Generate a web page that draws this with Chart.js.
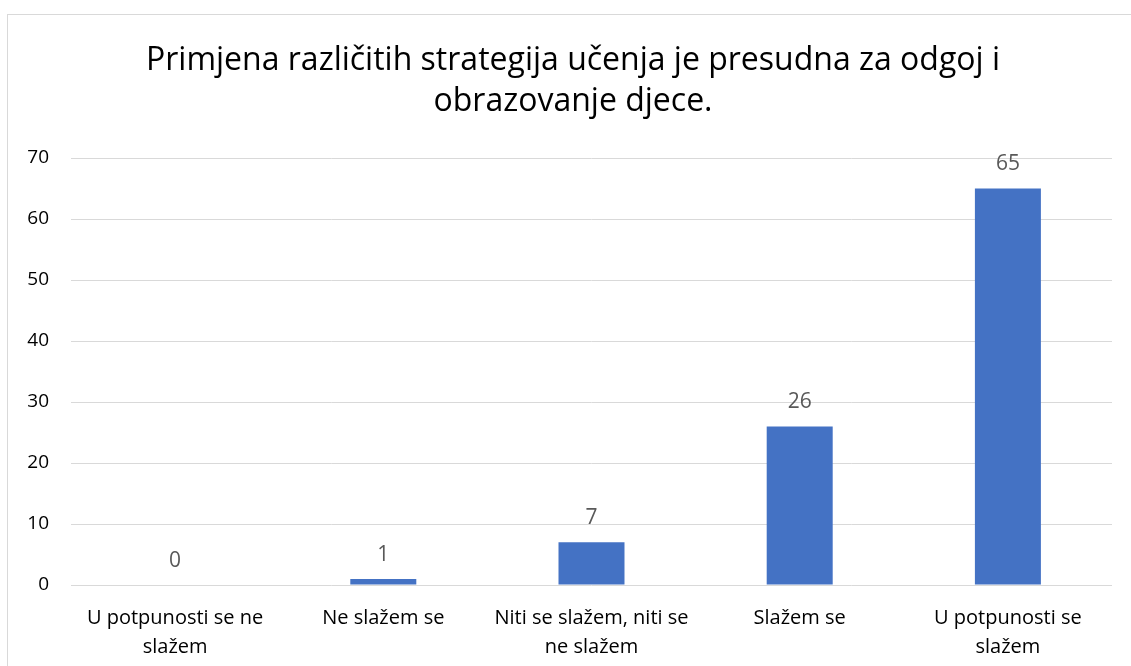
<!DOCTYPE html>
<html>
<head>
<meta charset="utf-8">
<script src="https://cdn.jsdelivr.net/npm/chart.js@4"></script>
<style>
  html, body { margin: 0; padding: 0; background: #fff; }
  #wrap { width: 1131px; height: 666px; position: relative; }
</style>
</head>
<body>
<div id="wrap"><canvas id="chart" width="1131" height="666"></canvas></div>
<script>
const titleLines = ["Primjena različitih strategija učenja je presudna za odgoj i", "obrazovanje djece."];
const categories = [
  ["U potpunosti se ne", "slažem"],
  "Ne slažem se",
  ["Niti se slažem, niti se", "ne slažem"],
  "Slažem se",
  ["U potpunosti se", "slažem"],
];
const values = [0, 1, 7, 26, 65];
const yTicks = [0, 10, 20, 30, 40, 50, 60, 70];

const FONT = "'Open Sans', 'Noto Sans', sans-serif";

// frame + white background
const framePlugin = {
  id: "frame",
  beforeDraw(chart) {
    const ctx = chart.ctx;
    ctx.save();
    ctx.fillStyle = "#fff";
    ctx.fillRect(0, 0, chart.width, chart.height);
    ctx.strokeStyle = "#d9d9d9";
    ctx.lineWidth = 1;
    ctx.strokeRect(7.5, 14.5, 1300, 1000);
    ctx.restore();
  },
};

// title centred on the frame, not on the plot (space kept by layout padding)
const titlePlugin = {
  id: "frameTitle",
  afterDraw(chart) {
    const ctx = chart.ctx;
    ctx.save();
    ctx.fillStyle = "#000";
    ctx.font = "32px " + FONT;
    ctx.textAlign = "center";
    ctx.textBaseline = "middle";
    titleLines.forEach((line, i) => {
      ctx.fillText(line, 573, 61 + i * 41);
    });
    ctx.restore();
  },
};

// value labels above bars
const valueLabels = {
  id: "valueLabels",
  afterDatasetsDraw(chart) {
    const ctx = chart.ctx;
    const meta = chart.getDatasetMeta(0);
    ctx.save();
    ctx.fillStyle = "#595959";
    ctx.font = "21px " + FONT;
    ctx.textAlign = "center";
    ctx.textBaseline = "middle";
    meta.data.forEach((bar, i) => {
      ctx.fillText(String(values[i]), bar.x, bar.y - 24);
    });
    ctx.restore();
  },
};

new Chart(document.getElementById("chart").getContext("2d"), {
  type: "bar",
  data: {
    labels: categories,
    datasets: [
      {
        data: values,
        backgroundColor: "#4472c4",
        barPercentage: 0.317,
        categoryPercentage: 1,
      },
    ],
  },
  options: {
    responsive: false,
    animation: false,
    layout: { padding: { left: 8, right: 19, top: 158, bottom: 0 } },
    plugins: {
      legend: { display: false },
      tooltip: { enabled: false },
      title: { display: false },
    },
    scales: {
      x: {
        grid: { display: false, drawTicks: false },
        border: { display: false },
        ticks: {
          color: "#000",
          font: { family: FONT, size: 20, lineHeight: 1.45 },
          padding: 19,
          maxRotation: 0,
          autoSkip: false,
        },
        afterFit(scale) { scale.height = 81; },
      },
      y: {
        min: 0,
        max: 70,
        afterBuildTicks(scale) { scale.ticks = yTicks.map((v) => ({ value: v })); },
        grid: { color: "#d9d9d9", lineWidth: 1, drawTicks: false },
        border: { display: false },
        ticks: {
          color: "#000",
          font: { family: FONT, size: 19 },
          padding: 22,
        },
        afterFit(scale) { scale.width = 63; },
      },
    },
  },
  plugins: [framePlugin, titlePlugin, valueLabels],
});
</script>
</body>
</html>
